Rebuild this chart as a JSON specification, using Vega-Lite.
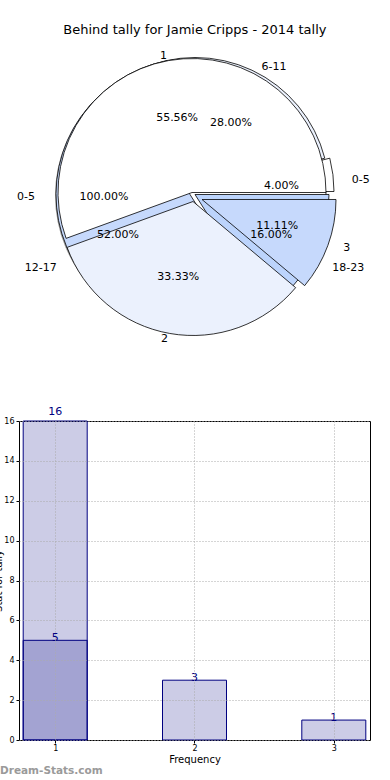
{
  "$schema": "https://vega.github.io/schema/vega-lite/v6.json",
  "background": "white",
  "padding": {"left": -7, "top": 24, "right": 0, "bottom": 0},
  "bounds": "flush",
  "title": {"text": "Behind tally for Jamie Cripps - 2014 tally", "fontSize": 13, "fontWeight": "normal", "font": "DejaVu Sans", "color": "black", "anchor": "middle", "offset": 1, "dx": 13},
  "datasets": {
    "pieA": [
      {"cat": "1", "idx": 1, "pct": 55.56, "label": "55.56%"},
      {"cat": "2", "idx": 2, "pct": 33.33, "label": "33.33%"},
      {"cat": "3", "idx": 3, "pct": 11.11, "label": "11.11%"}
    ],
    "pieB": [
      {"cat": "0-5", "idx": 1, "pct": 4, "label": "4.00%"},
      {"cat": "6-11", "idx": 2, "pct": 28, "label": "28.00%"},
      {"cat": "12-17", "idx": 3, "pct": 52, "label": "52.00%"},
      {"cat": "18-23", "idx": 4, "pct": 16, "label": "16.00%"}
    ],
    "pieC": [
      {"cat": "0-5", "idx": 1, "pct": 100, "label": "100.00%"}
    ],
    "bars": [
      {"freq": 1, "count": 16, "series": "tally"},
      {"freq": 1, "count": 5, "series": "behind"},
      {"freq": 2, "count": 3, "series": "tally"},
      {"freq": 3, "count": 1, "series": "tally"}
    ]
  },
  "vconcat": [
    {
      "width": 346,
      "height": 309,
      "resolve": {"scale": {"color": "independent"}},
      "layer": [
        {
          "data": {"name": "pieC"},
          "mark": {"type": "arc", "outerRadius": 134, "fill": "#555555", "opacity": 0.6, "xOffset": -3, "yOffset": 3},
          "encoding": {
            "theta": {"field": "pct", "type": "quantitative", "stack": true, "scale": {"domain": [0, 100], "range": [1.5708, -4.7124]}},
            "order": {"field": "idx", "type": "quantitative"}
          }
        },
        {
          "data": {"name": "pieC"},
          "mark": {"type": "arc", "outerRadius": 134, "fill": "white", "stroke": "black", "strokeWidth": 0.8},
          "encoding": {
            "theta": {"field": "pct", "type": "quantitative", "stack": true, "scale": {"domain": [0, 100], "range": [1.5708, -4.7124]}},
            "order": {"field": "idx", "type": "quantitative"}
          }
        },
        {
          "data": {"name": "pieB"},
          "mark": {"type": "arc", "outerRadius": 134, "stroke": "black", "strokeWidth": 0.8,
            "xOffset": {"expr": "datum.idx == 1 ? 8 : datum.idx == 2 ? 3 : datum.idx == 3 ? -2 : 3"},
            "yOffset": {"expr": "datum.idx == 1 ? -1 : datum.idx == 2 ? -1 : datum.idx == 3 ? 2 : 2"}},
          "encoding": {
            "theta": {"field": "pct", "type": "quantitative", "stack": true, "scale": {"domain": [0, 100], "range": [1.5708, -4.7124]}},
            "order": {"field": "idx", "type": "quantitative"},
            "color": {"field": "cat", "type": "nominal", "legend": null, "scale": {"domain": ["0-5", "6-11", "12-17", "18-23"], "range": ["#FFFFFF", "#EBF1FD", "#C6D9FC", "#BCD4FC"]}}
          }
        },
        {
          "data": {"name": "pieA"},
          "mark": {"type": "arc", "outerRadius": 134, "stroke": "black", "strokeWidth": 0.8,
            "xOffset": {"expr": "datum.idx == 2 ? 1 : datum.idx == 3 ? 10 : 0"},
            "yOffset": {"expr": "datum.idx == 2 ? 9 : datum.idx == 3 ? 7 : 0"}},
          "encoding": {
            "theta": {"field": "pct", "type": "quantitative", "stack": true, "scale": {"domain": [0, 100], "range": [1.5708, -4.7124]}},
            "order": {"field": "idx", "type": "quantitative"},
            "color": {"field": "cat", "type": "nominal", "legend": null, "scale": {"domain": ["1", "2", "3"], "range": ["#FFFFFF", "#EBF1FD", "#C6D9FC"]}}
          }
        },
        {
          "data": {"name": "pieC"},
          "mark": {"type": "text", "radius": 88, "fontSize": 11, "align": "center", "baseline": "middle", "dy": 4},
          "encoding": {
            "theta": {"field": "pct", "type": "quantitative", "stack": true, "scale": {"domain": [0, 100], "range": [1.5708, -4.7124]}},
            "order": {"field": "idx", "type": "quantitative"},
            "text": {"field": "label"}
          }
        },
        {
          "data": {"name": "pieC"},
          "mark": {"type": "text", "radius": 157, "fontSize": 11, "align": "right", "baseline": "middle", "dy": 4},
          "encoding": {
            "theta": {"field": "pct", "type": "quantitative", "stack": true, "scale": {"domain": [0, 100], "range": [1.5708, -4.7124]}},
            "order": {"field": "idx", "type": "quantitative"},
            "text": {"field": "cat"}
          }
        },
        {
          "data": {"name": "pieB"},
          "mark": {"type": "text", "radius": 80, "fontSize": 11, "align": "center", "baseline": "middle",
            "dx": {"expr": "datum.idx == 1 ? 10 : datum.idx == 2 ? 5 : datum.idx == 3 ? -4 : 9"},
            "dy": {"expr": "datum.idx == 1 ? 4 : datum.idx == 2 ? 3 : datum.idx == 3 ? 4 : 4"}},
          "encoding": {
            "theta": {"field": "pct", "type": "quantitative", "stack": true, "scale": {"domain": [0, 100], "range": [1.5708, -4.7124]}},
            "order": {"field": "idx", "type": "quantitative"},
            "text": {"field": "label"}
          }
        },
        {
          "data": {"name": "pieB"},
          "mark": {"type": "text", "fontSize": 11, "baseline": "middle",
            "radius": {"expr": "datum.idx == 2 ? 140 : 152"},
            "align": {"expr": "datum.idx == 3 ? 'right' : 'left'"},
            "dx": {"expr": "datum.idx == 1 ? 9 : datum.idx == 2 ? 10 : datum.idx == 3 ? -2 : 7"},
            "dy": {"expr": "datum.idx == 1 ? 7 : datum.idx == 2 ? 1 : datum.idx == 3 ? 2 : 2"}},
          "encoding": {
            "theta": {"field": "pct", "type": "quantitative", "stack": true, "scale": {"domain": [0, 100], "range": [1.5708, -4.7124]}},
            "order": {"field": "idx", "type": "quantitative"},
            "text": {"field": "cat"}
          }
        },
        {
          "data": {"name": "pieA"},
          "mark": {"type": "text", "radius": 80, "fontSize": 11, "align": "center", "baseline": "middle",
            "dx": {"expr": "datum.idx == 2 ? 0 : datum.idx == 3 ? 10 : -1"},
            "dy": {"expr": "datum.idx == 2 ? 6 : datum.idx == 3 ? 6 : 4"}},
          "encoding": {
            "theta": {"field": "pct", "type": "quantitative", "stack": true, "scale": {"domain": [0, 100], "range": [1.5708, -4.7124]}},
            "order": {"field": "idx", "type": "quantitative"},
            "text": {"field": "label"}
          }
        },
        {
          "data": {"name": "pieA"},
          "mark": {"type": "text", "radius": 144, "fontSize": 11, "baseline": "middle",
            "align": {"expr": "datum.idx == 3 ? 'left' : 'right'"},
            "dx": {"expr": "datum.idx == 2 ? 1 : datum.idx == 3 ? 16 : 0"},
            "dy": {"expr": "datum.idx == 2 ? 5 : datum.idx == 3 ? 6 : 5"}},
          "encoding": {
            "theta": {"field": "pct", "type": "quantitative", "stack": true, "scale": {"domain": [0, 100], "range": [1.5708, -4.7124]}},
            "order": {"field": "idx", "type": "quantitative"},
            "text": {"field": "cat"}
          }
        }
      ]
    },
    {
      "width": 351,
      "height": 319,
      "data": {"name": "bars"},
      "view": {"stroke": "black", "strokeWidth": 1},
      "title": {"text": "Dream-Stats.com", "orient": "bottom", "anchor": "start", "frame": "group", "color": "#9a9a9a", "fontSize": 10.5, "fontWeight": "bold", "offset": 2, "dx": -19},
      "encoding": {
        "x": {"field": "freq", "type": "quantitative",
          "scale": {"domain": [0.776, 3.224], "nice": false, "zero": false},
          "axis": {"values": [1, 2, 3], "format": "d", "title": "Frequency", "grid": true, "gridDash": [1, 2], "gridColor": "#aaaaaa", "domain": false, "tickSize": 3, "tickColor": "black", "labelFontSize": 8, "labelPadding": 1, "titleFontSize": 10, "titleFontWeight": "normal", "titlePadding": 2, "labelColor": "black", "titleColor": "black", "zindex": 1}},
        "y": {"field": "count", "type": "quantitative", "stack": null,
          "scale": {"domain": [0, 16], "nice": false},
          "axis": {"values": [0, 2, 4, 6, 8, 10, 12, 14, 16], "title": "Stat for tally", "titlePadding": 0, "grid": true, "gridDash": [1, 2], "gridColor": "#aaaaaa", "domain": false, "tickSize": 3, "tickColor": "black", "labelFontSize": 8, "labelPadding": 2, "titleFontSize": 10, "titleFontWeight": "normal", "labelColor": "black", "titleColor": "black", "zindex": 1}}
      },
      "layer": [
        {"mark": {"type": "bar", "width": 64, "fill": "#000080", "fillOpacity": 0.2, "stroke": "#000080", "strokeWidth": 1}},
        {"mark": {"type": "text", "color": "#000080", "fontSize": 11, "baseline": "middle", "dy": {"expr": "datum.count == 16 ? -9 : -2"}}, "encoding": {"text": {"field": "count", "type": "quantitative"}}}
      ]
    }
  ],
  "spacing": 74,
  "config": {"font": "DejaVu Sans", "view": {"stroke": null}}
}
